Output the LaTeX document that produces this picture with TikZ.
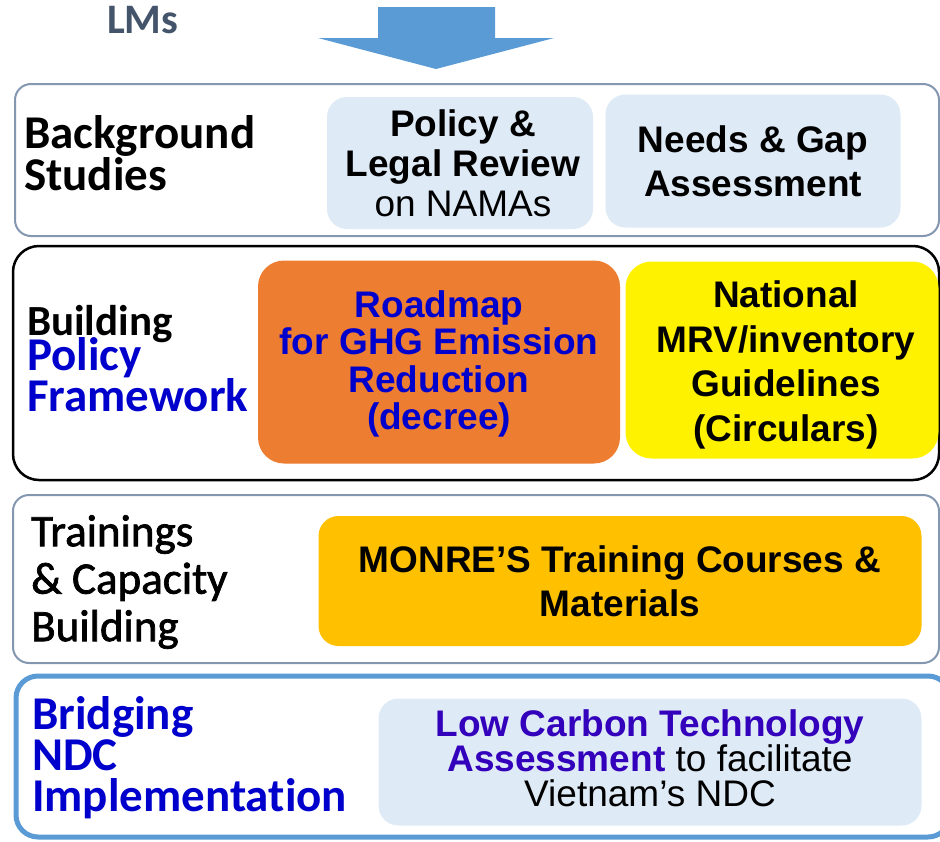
\documentclass[tikz,border=0pt]{standalone}
\usepackage{fontspec}
\setmainfont{Liberation Sans}
\newfontfamily\labelfont[Ligatures=NoCommon]{Carlito}
\newfontfamily\trainfont[FakeBold=1.6]{Carlito}
\usetikzlibrary{positioning}
\definecolor{lmblue}{HTML}{5B9BD5}
\definecolor{slate}{HTML}{44546A}
\definecolor{panelgray}{HTML}{8497B0}
\definecolor{paleblue}{HTML}{DEEAF6}
\definecolor{roadorange}{HTML}{ED7D31}
\definecolor{goldbox}{HTML}{FFC000}
\definecolor{deepblue}{HTML}{0000CC}
\definecolor{lowcarbon}{HTML}{3300BB}
\tikzset{
  panel/.style={rounded corners=16pt, line width=2pt, draw=panelgray, fill=white},
  item/.style={rounded corners=20pt, inner sep=0pt, align=center,
    font=\fontsize{37}{40}\selectfont\bfseries},
  side/.style={anchor=north west, inner sep=0pt, align=left,
    font=\labelfont\bfseries\fontsize{47}{41}\selectfont}
}
\begin{document}
\begin{tikzpicture}[x=1pt, y=-1pt]
    \useasboundingbox (0,0) rectangle (940,841);

    % incoming arrow
    \node[anchor=north west, inner sep=0pt, text=slate,
      font=\labelfont\bfseries\fontsize{42}{42}\selectfont] (lms) at (107,6) {LMs};
    \fill[lmblue] (378,7) -- (495,7) -- (495,38) -- (554,38) -- (436,69)
      -- (318,38) -- (378,38) -- cycle;

    % background studies
    \draw[panel] (15,84) rectangle (939,236);
    \node[item, fill=paleblue, minimum width=266pt, minimum height=132pt] (review) at (460,163) {};
    \node[item, font=\fontsize{37}{40}\selectfont] at ([xshift=3pt]review) {\bfseries Policy \&\\\bfseries Legal Review\\on NAMAs};
    \node[item, fill=paleblue, minimum width=295pt, minimum height=133pt,
      font=\fontsize{37}{44}\selectfont\bfseries] (gap) at (753,161) {Needs \& Gap\\Assessment};
    \node[side, font=\labelfont\bfseries\fontsize{47}{40}\selectfont] (bg) at (24,115) {Background\\Studies};

    % policy framework
    \draw[panel, draw=black, rounded corners=26pt, line width=2.5pt] (13,246) rectangle (939,480);
    \node[item, fill=roadorange, rounded corners=26pt,
      minimum width=362pt, minimum height=203pt] (roadmap) at (439,362) {};
    \node[item, text=deepblue, font=\fontsize{37}{37.5}\selectfont\bfseries]
      at ([yshift=-2pt]roadmap) {Roadmap\\for GHG Emission\\Reduction\\(decree)};
    \node[item, fill=yellow, rounded corners=26pt,
      minimum width=313pt, minimum height=197pt] (mrv) at (782,360) {};
    \node[item, font=\fontsize{37}{44.5}\selectfont\bfseries] at ([xshift=4pt, yshift=-5pt]mrv)
      {National\\MRV/inventory\\Guidelines\\(Circulars)};
    \node[side, font=\labelfont\bfseries\fontsize{43}{40}\selectfont] (build) at (27,305) {Building};
    \node[side, text=deepblue, below=-6pt of build.south west, anchor=north west] (pf) {Policy\\Framework};

    % trainings
    \draw[panel] (13,495) rectangle (939,663);
    \node[item, fill=goldbox, minimum width=603pt, minimum height=130pt,
      font=\fontsize{37}{44}\selectfont\bfseries] (monre) at (620,581)
      {MONRE’S Training Courses \&\\Materials};
    \node[side, font=\trainfont\fontsize{45}{47.5}\selectfont] (train) at (31,515)
      {Trainings\\\& Capacity\\Building};

    % NDC implementation
    \draw[panel, draw=lmblue, line width=5pt, rounded corners=22pt] (16,676) rectangle (950,837);
    \node[item, fill=paleblue, minimum width=543pt, minimum height=127pt] (lct) at (650,762) {};
    \node[item, font=\fontsize{37}{35}\selectfont] at ([yshift=4pt]lct)
      {\textcolor{lowcarbon}{\bfseries Low Carbon Technology}\\\textcolor{lowcarbon}{\bfseries Assessment} to facilitate\\Vietnam’s NDC};
    \node[side, text=deepblue] (ndc) at (32,696)
      {Bridging\\NDC\\Implementation};
\end{tikzpicture}
\end{document}
